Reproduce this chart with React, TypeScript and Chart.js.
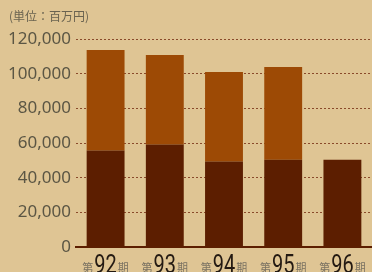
import React, { useEffect, useRef } from "react";
import { Chart, registerables } from "chart.js";

Chart.register(...registerables);

const periods = ["92", "93", "94", "95", "96"];
const lowerValues = [55700, 59100, 49300, 50400, 50400];
const upperValues = [57900, 51600, 51600, 53400, null];
const yTicks = [0, 20000, 40000, 60000, 80000, 100000, 120000];
const unitLabel = "(単位：百万円)";

const BG = "#dfc594";
const DARK = "#5c1e00";
const ORANGE = "#9d4a05";
const GRID = "#8a4a2a";
const TEXT = "#5b5644";

const bgPlugin = {
  id: "bg",
  beforeDraw(chart: any) {
    const { ctx, width, height } = chart;
    ctx.save();
    ctx.fillStyle = BG;
    ctx.fillRect(0, 0, width, height);
    ctx.restore();
  },
};

const labelPlugin = {
  id: "labels",
  afterDraw(chart: any) {
    const { ctx } = chart;
    const xs = chart.scales.x;
    ctx.save();
    // unit label
    ctx.font = '12px "Noto Sans CJK JP"';
    ctx.fillStyle = "#6a6350";
    ctx.textBaseline = "middle";
    ctx.textAlign = "left";
    ctx.fillText(unitLabel, 9, 16);
    // category labels
    const baseline = 272;
    periods.forEach((p, i) => {
      const cx = xs.getPixelForValue(i);
      ctx.textBaseline = "alphabetic";
      ctx.textAlign = "left";
      ctx.font = '11px "Noto Sans CJK JP"';
      const wSmall = ctx.measureText("第").width;
      const wSmall2 = ctx.measureText("期").width;
      ctx.font = "25px Roboto";
      const sx = 0.8;
      const wNum = ctx.measureText(p).width * sx;
      const gap = 1;
      const total = wSmall + gap + wNum + gap + wSmall2;
      let x = cx - total / 2;
      ctx.font = '11px "Noto Sans CJK JP"';
      ctx.fillStyle = "#7a7262";
      ctx.fillText("第", x, baseline);
      x += wSmall + gap;
      ctx.save();
      ctx.translate(x, baseline + 1);
      ctx.scale(sx, 1);
      ctx.font = "25px Roboto";
      ctx.fillStyle = "#241a12";
      ctx.fillText(p, 0, 0);
      ctx.restore();
      x += wNum + gap;
      ctx.font = '11px "Noto Sans CJK JP"';
      ctx.fillStyle = "#7a7262";
      ctx.fillText("期", x, baseline);
    });
    ctx.restore();
  },
};

export default function App() {
  const ref = useRef<HTMLCanvasElement | null>(null);
  useEffect(() => {
    document.body.style.margin = "0";
    const canvas = ref.current!;
    const chart = new Chart(canvas, {
      type: "bar",
      data: {
        labels: periods,
        datasets: [
          {
            data: lowerValues,
            backgroundColor: DARK,
            barPercentage: 0.64,
            categoryPercentage: 1,
          },
          {
            data: upperValues as any,
            backgroundColor: ORANGE,
            barPercentage: 0.64,
            categoryPercentage: 1,
          },
        ],
      },
      options: {
        animation: false,
        responsive: false,
        maintainAspectRatio: false,
        layout: { padding: { top: 39, left: 0, right: 0, bottom: 17 } },
        plugins: {
          legend: { display: false },
          tooltip: { enabled: false },
          title: { display: false },
        },
        scales: {
          x: {
            stacked: true,
            ticks: { display: false },
            grid: { display: false },
            border: { display: true, color: DARK, width: 2 },
          },
          y: {
            stacked: true,
            min: 0,
            max: 120000,
            afterFit(scale: any) {
              scale.width = 76;
            },
            afterBuildTicks(scale: any) {
              scale.ticks = yTicks.map((v) => ({ value: v }));
            },
            ticks: {
              padding: 5,
              color: TEXT,
              font: { family: "Noto Sans", size: 17 },
              callback: (v: any) => Number(v).toLocaleString("en-US"),
            },
            grid: {
              color: (c: any) => (c.tick && c.tick.value === 0 ? "rgba(0,0,0,0)" : GRID),
              lineWidth: 1,
              drawTicks: false,
            },
            border: { display: false, dash: [2, 2] },
          },
        },
      },
      plugins: [bgPlugin, labelPlugin],
    });
    return () => chart.destroy();
  }, []);
  return (
    <div style={{ width: 372, height: 272, position: "relative" }}>
      <canvas ref={ref} width={372} height={272} style={{ display: "block" }} />
    </div>
  );
}
